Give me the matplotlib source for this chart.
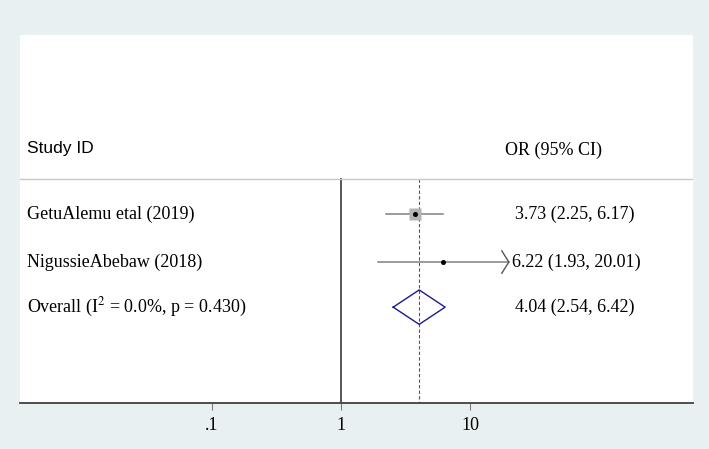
import matplotlib
matplotlib.use('Agg')
import matplotlib.pyplot as plt
import matplotlib.transforms as mtransforms
import numpy as np

# study data
studies = ['GetuAlemu etal (2019)', 'NigussieAbebaw (2018)']
or_est = [3.73, 6.22]
ci_low = [2.25, 1.93]
ci_high = [6.17, 20.01]
box_size = [8, 0]          # marker size for weight boxes
arrow_right = [False, True]

overall_label = 'Overall (I$^2$ = 0.0%, p = 0.430)'
overall_est = 4.04
overall_low = 2.54
overall_high = 6.42

ticks = [0.1, 1, 10]
tick_labels = ['.1', '1', '10']

outer_bg = '#e8f0f2'
serif = ['Liberation Serif', 'DejaVu Serif']
plt.rcParams['mathtext.fontset'] = 'stix'

fig = plt.figure(figsize=(7.09, 4.49), dpi=100, facecolor=outer_bg)
ax = fig.add_axes([20/709, (449-403)/449, 673/709, (403-35)/449])
ax.set_facecolor('white')
ax.set_xscale('log')
ax.set_xlim(10**-2.488, 10**2.729)
ax.set_ylim(4.06, -3.85)

rows = [0, 1.03]
row_overall = 2.0
y_sep = -0.75
y_head = -1.4

trans = mtransforms.blended_transform_factory(ax.transAxes, ax.transData)

# header
ax.text(0.0104, y_head, 'Study ID', transform=trans, ha='left', va='center',
        fontsize=12.5, family=['Liberation Sans', 'DejaVu Sans'])
ax.text(0.7207, y_head + 0.02, 'OR (95% CI)', transform=trans, ha='left', va='center',
        fontsize=13, family=serif)
ax.axhline(y_sep, color='#c8c8c8', lw=1)

# reference lines
ax.plot([1, 1], [y_sep, 4.06], color='#555555', lw=1.4, zorder=1)
ax.plot([overall_est, overall_est], [y_sep, 4.06], color='#b03030', lw=0.8,
        dashes=(3, 2), zorder=1)

# studies
for i in range(len(studies)):
    y = rows[i]
    ax.plot([ci_low[i], ci_high[i]], [y, y], color='#808080', lw=1.1, zorder=2)
    if box_size[i] > 0:
        ax.plot(or_est[i], y, marker='s', ms=box_size[i], color='#b4b4b4', mec='none', zorder=3)
    ax.plot(or_est[i], y, marker='o', ms=2.6, color='black', zorder=4)
    if arrow_right[i]:
        f = 10**(-7/129)
        ax.plot([ci_high[i]*f, ci_high[i], ci_high[i]*f], [y - 0.24, y, y + 0.24],
                color='#555555', lw=1.0, zorder=2)
    ax.text(0.0104, y, studies[i], transform=trans, ha='left', va='center',
            fontsize=13, family=serif)
    ax.text(0.7355 - (0.004 if ci_high[i] >= 10 else 0), y,
            '%.2f (%.2f, %.2f)' % (or_est[i], ci_low[i], ci_high[i]),
            transform=trans, ha='left', va='center', fontsize=13, family=serif)

# overall diamond
h = 0.37
ax.plot([overall_low, overall_est, overall_high, overall_est, overall_low],
        [row_overall, row_overall - h, row_overall, row_overall + h, row_overall],
        color='#1a1a8c', lw=1.0, zorder=3)
ax.text(0.0104, row_overall, overall_label, transform=trans, ha='left', va='center',
        fontsize=13, family=serif)
ax.text(0.7355, row_overall, '%.2f (%.2f, %.2f)' % (overall_est, overall_low, overall_high),
        transform=trans, ha='left', va='center', fontsize=13, family=serif)

# axes styling
for s in ['top', 'right', 'left']:
    ax.spines[s].set_visible(False)
ax.spines['bottom'].set_color('#404040')
ax.spines['bottom'].set_linewidth(1.3)
ax.set_yticks([])
ax.set_xticks(ticks)
ax.set_xticklabels(tick_labels, fontsize=13, family=serif)
ax.xaxis.set_minor_locator(matplotlib.ticker.NullLocator())
ax.tick_params(axis='x', direction='out', length=5, width=0.8, color='#808080', pad=5)

fig.savefig('out.png', dpi=100, facecolor=outer_bg)
